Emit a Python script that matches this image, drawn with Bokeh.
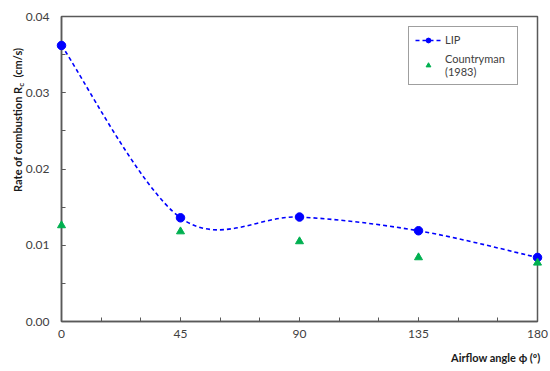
import numpy as np
from bokeh.plotting import figure
from bokeh.models import (Range1d, SingleIntervalTicker, NumeralTickFormatter, Label,
                          Legend, LegendItem)
from bokeh.embed import file_html
from bokeh.resources import INLINE

# ---- data ----
angles = [0, 45, 90, 135, 180]
lip = [0.0362, 0.0136, 0.0137, 0.0119, 0.0084]
countryman = [0.0126, 0.0118, 0.0105, 0.0084, 0.0077]
x_tick_step = 45
y_tick_step = 0.01

FONT = "Lato"
AXIS_COLOR = "#595959"

p = figure(frame_width=476, frame_height=305,
           min_border_left=61, min_border_right=13, min_border_top=16, min_border_bottom=50,
           x_range=Range1d(0, 180), y_range=Range1d(0, 0.04),
           output_backend="svg", toolbar_location=None,
           background_fill_color="white", border_fill_color="white")
p.outline_line_color = AXIS_COLOR
p.outline_line_width = 1.5
p.xgrid.visible = False
p.ygrid.visible = False

for ax in (p.xaxis[0], p.yaxis[0]):
    ax.axis_line_color = AXIS_COLOR
    ax.axis_line_width = 1.5
    ax.major_tick_line_color = AXIS_COLOR
    ax.minor_tick_line_color = AXIS_COLOR
    ax.major_tick_in = 4
    ax.major_tick_out = 0
    ax.minor_tick_in = 4
    ax.minor_tick_out = 0
    ax.major_label_text_font = FONT
    ax.major_label_text_font_size = "12px"
    ax.major_label_text_color = "#404040"

p.xaxis.ticker = SingleIntervalTicker(interval=x_tick_step, num_minor_ticks=3)
p.xaxis.major_label_standoff = 8
p.yaxis.ticker = SingleIntervalTicker(interval=y_tick_step, num_minor_ticks=2)
p.yaxis.formatter = NumeralTickFormatter(format="0.00")
p.yaxis.major_label_standoff = 12

# smoothed (Catmull-Rom) curve through LIP points, as Bezier segments
xs = np.array(angles, dtype=float)
ys = np.array(lip, dtype=float)
xe = np.concatenate([[xs[0]], xs, [xs[-1]]])
ye = np.concatenate([[ys[0]], ys, [ys[-1]]])
n = len(xs)
x0 = xs[:-1]; y0 = ys[:-1]; x1 = xs[1:]; y1 = ys[1:]
cx0 = x0 + (xe[2:n+1] - xe[0:n-1]) / 6.0
cy0 = y0 + (ye[2:n+1] - ye[0:n-1]) / 6.0
cx1 = x1 - (xe[3:n+2] - xe[1:n]) / 6.0
cy1 = y1 - (ye[3:n+2] - ye[1:n]) / 6.0
curve = p.bezier(x0=x0, y0=y0, x1=x1, y1=y1, cx0=cx0, cy0=cy0, cx1=cx1, cy1=cy1,
                 line_color="#0000FF", line_width=1.6, line_dash="4 3")

lip_r = p.scatter(angles, lip, marker="circle", size=8.5, color="#0000FF", level="overlay")
cm_r = p.scatter(angles, countryman, marker="triangle", size=8, color="#00B050", level="overlay")

legend = Legend(items=[LegendItem(label="LIP", renderers=[curve, lip_r]),
                       LegendItem(label="Countryman\n(1983)", renderers=[cm_r])],
                location=(347, 236), padding=6, spacing=6, margin=0,
                glyph_width=26, glyph_height=12, label_height=12, label_standoff=4,
                label_width=66,
                label_text_font=FONT, label_text_font_size="11px",
                label_text_color="#404040",
                border_line_color="#404040", border_line_width=1,
                background_fill_color="white", background_fill_alpha=1)
p.add_layout(legend)

# axis titles (anchored to axis ends, offset in pixels); side panels are not clipped,
# so the pieces are spread over panels that have spare room
lab_kw = dict(text_font=FONT, text_font_style="bold", text_color="#1a1a1a")
p.add_layout(Label(x=angles[0], y=0.0308, x_offset=-44, text="Rate of combustion R",
                   angle=np.pi/2, text_align="right", text_baseline="middle",
                   text_font_size="11px", **lab_kw), "left")
p.add_layout(Label(x=angles[0], y=0.0308, x_offset=-41, text="c", angle=np.pi/2,
                   text_align="left", text_baseline="middle", text_font_size="8px", **lab_kw), "above")
p.add_layout(Label(x=angles[0], y=0.0320, x_offset=-44, text="(cm/s)", angle=np.pi/2,
                   text_align="left", text_baseline="middle", text_font_size="11px", **lab_kw), "right")
p.add_layout(Label(x=angles[-1], y=0, x_offset=3, y_offset=-36,
                   text="Airflow angle \u03d5 (\u00ba)",
                   text_align="right", text_baseline="middle", text_font_size="11px", **lab_kw), "below")

open("out.html", "w").write(file_html(p, INLINE))
